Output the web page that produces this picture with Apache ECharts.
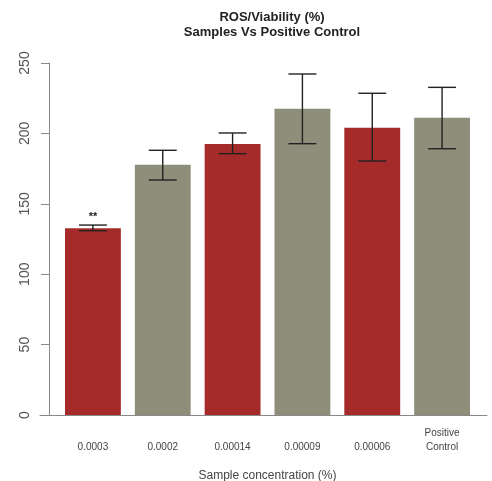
<!DOCTYPE html>
<html><head><meta charset="utf-8">
<script src="https://cdn.jsdelivr.net/npm/echarts@6/dist/echarts.min.js"></script>
<style>html,body{margin:0;padding:0;background:#fff}#c{width:492px;height:481px}</style>
</head><body><div id="c"></div>
<script>
var categories = ['0.0003', '0.0002', '0.00014', '0.00009', '0.00006', 'Positive\nControl'];
var values = [132.6, 177.8, 192.5, 217.5, 204.0, 211.2];
var errLow = [130.9, 166.9, 185.6, 192.7, 180.4, 189.1];
var errHigh = [134.9, 188.0, 200.3, 242.2, 228.5, 232.7];
var annotations = ['**', '', '', '', '', ''];
var barColors = ['#A52A2A', '#8E8E7B', '#A52A2A', '#8E8E7B', '#A52A2A', '#8E8E7B'];
var yTicks = [0, 50, 100, 150, 200, 250];

var font = 'Liberation Sans, Arial, sans-serif';
var chart = echarts.init(document.getElementById('c'));
chart.setOption({
  animation: false,
  title: {
    text: 'ROS/Viability (%)\nSamples Vs Positive Control',
    left: 267, textAlign: 'center', top: 5,
    textStyle: { fontFamily: font, fontSize: 13, fontWeight: 'bold', color: '#222', lineHeight: 15 }
  },
  grid: [
    { left: 58, right: 15, top: 63, bottom: 66, containLabel: false, outerBoundsMode: 'none' },
    { left: 40, right: 5, top: 63, bottom: 66, containLabel: false, outerBoundsMode: 'none' }
  ],
  xAxis: [{
    type: 'category', data: categories, gridIndex: 0,
    axisLine: { show: false }, axisTick: { show: false },
    axisLabel: { interval: 0, fontFamily: font, fontSize: 10, color: '#444', margin: 39, verticalAlign: 'bottom', lineHeight: 14 },
    name: 'Sample concentration (%)', nameLocation: 'middle', nameGap: 55,
    nameTextStyle: { fontFamily: font, fontSize: 12, color: '#444' }
  }, {
    type: 'category', data: categories, gridIndex: 1,
    axisLine: { show: true, lineStyle: { color: '#888', width: 1 } },
    axisTick: { show: false }, axisLabel: { show: false }
  }],
  yAxis: [{
    type: 'value', gridIndex: 0, min: 0, max: 250, interval: 50, offset: 9,
    axisLine: { show: true, lineStyle: { color: '#888', width: 1 } },
    axisTick: { show: true, length: 8, lineStyle: { color: '#888' } },
    splitLine: { show: false },
    axisLabel: {
      rotate: 90, margin: 17, fontFamily: font, fontSize: 14, color: '#555',
      formatter: function (v) { return yTicks.indexOf(v) >= 0 ? String(v) : ''; }
    }
  }, {
    type: 'value', gridIndex: 1, min: 0, max: 250, show: false
  }],
  series: [{
    type: 'bar', xAxisIndex: 0, yAxisIndex: 0,
    data: values.map(function (v, i) { return { value: v, itemStyle: { color: barColors[i] } }; }),
    barCategoryGap: '20%'
  }, {
    type: 'custom', xAxisIndex: 0, yAxisIndex: 0, z: 5,
    data: categories.map(function (c, i) { return [i, errLow[i], errHigh[i], annotations[i]]; }),
    renderItem: function (params, api) {
      var x = api.value(0);
      var lo = api.coord([x, api.value(1)]);
      var hi = api.coord([x, api.value(2)]);
      var hw = api.size([1, 0])[0] * 0.2;
      var st = { stroke: '#222', lineWidth: 1.4 };
      var children = [
        { type: 'line', shape: { x1: lo[0], y1: lo[1], x2: hi[0], y2: hi[1] }, style: st },
        { type: 'line', shape: { x1: lo[0] - hw, y1: lo[1], x2: lo[0] + hw, y2: lo[1] }, style: st },
        { type: 'line', shape: { x1: hi[0] - hw, y1: hi[1], x2: hi[0] + hw, y2: hi[1] }, style: st }
      ];
      var ann = annotations[params.dataIndex];
      if (ann) {
        children.push({ type: 'text', style: { text: ann, x: hi[0], y: hi[1] - 3, align: 'center', verticalAlign: 'bottom',
          font: 'bold 11px ' + font, fill: '#222' } });
      }
      return { type: 'group', children: children };
    }
  }]
});
</script></body></html>
